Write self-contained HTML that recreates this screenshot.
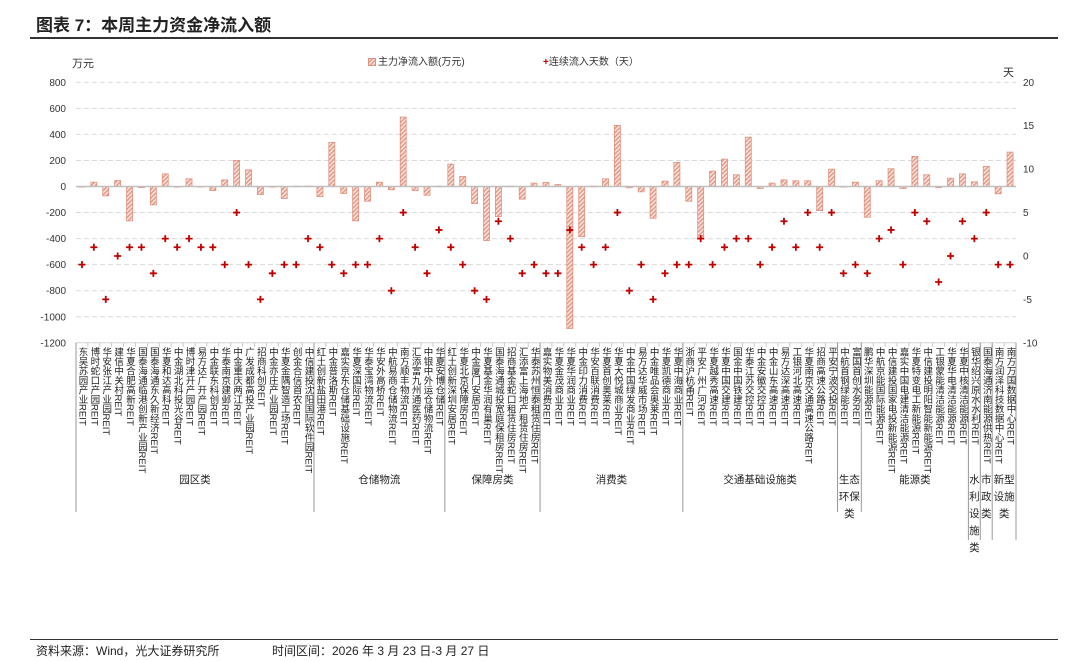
<!DOCTYPE html>
<html><head><meta charset="utf-8">
<style>
body{margin:0;background:#fff;}
#wrap{position:relative;width:1080px;height:661px;overflow:hidden;font-family:"Liberation Sans","Noto Sans CJK SC",sans-serif;color:#333;}
.abs{position:absolute;white-space:nowrap;}
.vl{position:absolute;writing-mode:vertical-rl;font-size:9.5px;line-height:11px;width:11px;color:#222;white-space:nowrap;}
.grp{position:absolute;font-size:10.5px;color:#222;text-align:center;line-height:17px;}
</style></head><body>
<div id="wrap">
<div class="abs" style="left:36px;top:11px;font-size:17px;font-weight:bold;color:#222;">图表 7：本周主力资金净流入额</div>
<div class="abs" style="left:30px;top:37px;width:1028px;height:1.5px;background:#333;"></div>
<div class="abs" style="left:72px;top:55px;font-size:11px;">万元</div>
<div class="abs" style="left:1003px;top:64px;font-size:11px;">天</div>
<div class="abs" style="left:368px;top:53px;font-size:10px;"><svg width="8" height="8" style="vertical-align:-1px;margin-right:2px"><rect x="0.5" y="0.5" width="7" height="7" fill="url(#hatch)" stroke="#e0917e"/></svg>主力净流入额(万元)</div>
<div class="abs" style="left:543px;top:53px;font-size:10px;"><span style="color:#c00000;font-weight:bold">+</span>连续流入天数（天）</div>
<svg id="chart" width="1080" height="661" style="position:absolute;left:0;top:0">
<defs><pattern id="hatch" patternUnits="userSpaceOnUse" width="3" height="3" patternTransform="rotate(45)"><rect width="3" height="3" fill="#fbe3dc"/><rect width="1.3" height="3" fill="#e0917e"/></pattern></defs>
</svg>
<div class="abs" style="left:30px;top:639px;width:1028px;height:1px;background:#333;"></div>
<div class="abs" style="left:36px;top:642px;font-size:12px;color:#222;">资料来源：Wind，光大证券研究所</div>
<div class="abs" style="left:272px;top:642px;font-size:12px;color:#222;">时间区间：2026 年 3 月 23 日-3 月 27 日</div>
</div>
<script>
const categories=["东吴苏园产业REIT","博时蛇口产园REIT","华安张江产业园REIT","建信中关村REIT","华夏合肥高新REIT","国泰海通临港创新产业园REIT","国泰海通东久新经济REIT","华夏和达高科REIT","中金湖北科投光谷REIT","博时津开产园REIT","易方达广开产园REIT","中金联东科创REIT","华泰南京建邺REIT","中金重庆两江REIT","广发成都高投产业园REIT","招商科创REIT","中金亦庄产业园REIT","华夏金隅智造工场REIT","创金合信首农REIT","中信建投沈阳国际软件园REIT",
"红土创新盐田港REIT","中金普洛斯REIT","嘉实京东仓储基础设施REIT","华夏深国际REIT","华泰宝湾物流REIT","华安外高桥REIT","中航易商仓储物流REIT","南方顺丰物流REIT","汇添富九州通医药REIT","中银中外运仓储物流REIT","华夏安博仓储REIT",
"红土创新深圳安居REIT","华夏北京保障房REIT","中金厦门安居REIT","华夏基金华润有巢REIT","国泰海通城投宽庭保租房REIT","招商基金蛇口租赁住房REIT","汇添富上海地产租赁住房REIT","华泰苏州恒泰租赁住房REIT",
"嘉实物美消费REIT","华夏金茂商业REIT","华夏华润商业REIT","中金印力消费REIT","华安百联消费REIT","华夏首创奥莱REIT","华夏大悦城商业REIT","中金中国绿发商业REIT","易方达华威市场REIT","中金唯品会奥莱REIT","华夏凯德商业REIT","华夏中海商业REIT",
"浙商沪杭甬REIT","平安广州广河REIT","华夏越秀高速REIT","华夏中国交建REIT","国金中国铁建REIT","华泰江苏交控REIT","中金安徽交控REIT","中金山东高速REIT","易方达深高速REIT","工银河北高速REIT","华夏南京交通高速公路REIT","招商高速公路REIT","平安宁波交投REIT",
"中航首钢绿能REIT","富国首创水务REIT",
"鹏华深圳能源REIT","中航京能国际能源REIT","中信建投国家电投新能源REIT","嘉实中国电建清洁能源REIT","华夏特变电工新能源REIT","中信建投明阳智能新能源REIT","工银蒙能清洁能源REIT","华夏华电清洁能源REIT","华夏中核清洁能源REIT",
"银华绍兴原水水利REIT","国泰海通济南能源供热REIT","南方润泽科技数据中心REIT","南方万国数据中心REIT"];
const netFlow=[0,33,-72,46,-264,-8,-141,97,-5,59,0,-31,51,200,128,-62,-5,-92,3,3,
-77,338,-54,-264,-113,33,-25,533,-31,-67,3,
172,77,-131,-415,-231,3,-97,26,
31,15,-1090,-385,3,59,469,-10,-41,-244,41,185,
-113,-400,118,210,90,379,-15,26,51,44,44,-185,133,
-3,33,
-236,44,136,-15,231,90,-8,64,97,
36,154,-56,264];
const days=[-1,1,-5,0,1,1,-2,2,1,2,1,1,-1,5,-1,-5,-2,-1,-1,2,
1,-1,-2,-1,-1,2,-4,5,1,-2,3,
1,-1,-4,-5,4,2,-2,-1,
-2,-2,3,1,-1,1,5,-4,-1,-5,-2,-1,
-1,2,-1,1,2,2,-1,1,4,1,5,1,5,
-2,-1,
-2,2,3,-1,5,4,-3,0,4,
2,5,-1,-1];
const groupNames=[["园区类"],["仓储物流"],["保障房类"],["消费类"],["交通基础设施类"],["生态","环保","类"],["能源类"],["水","利","设","施","类"],["市","政","类"],["新型","设施","类"]];
const groupSizes=[20,11,8,12,13,2,9,1,1,2];
const leftTicks=[800,600,400,200,0,-200,-400,-600,-800,-1000,-1200];
const rightTicks=[20,15,10,5,0,-5,-10];

const X0=76,X1=1016,n=categories.length,step=(X1-X0)/n;
const yTop=82.3,yBot=342.8;
function yL(v){return yTop+(800-v)*(yBot-yTop)/2000;}
function yR(d){return yTop+(20-d)*(yBot-yTop)/30;}
function xC(i){return X0+step*(i+0.5);}
const svg=document.getElementById('chart'),wrap=document.getElementById('wrap');
const NS="http://www.w3.org/2000/svg";
function mk(t,a){const e=document.createElementNS(NS,t);for(const k in a)e.setAttribute(k,a[k]);svg.appendChild(e);return e;}
leftTicks.forEach(v=>{
  if(v!==0){const g=mk('line',{x1:X0,x2:X1,y1:yL(v),y2:yL(v),stroke:'#d9d9d9','stroke-dasharray':'5,3','stroke-width':1});
  
  }
  const t=mk('text',{x:66,y:yL(v)+3.5,'text-anchor':'end','font-size':10,fill:'#333'});t.textContent=v;
  
  
});
rightTicks.forEach(d=>{
  const t=mk('text',{x:1023,y:yR(d)+3.5,'font-size':10,fill:'#333'});t.textContent=d;
  
  
});
netFlow.forEach((v,i)=>{
  const y0=yL(0),y1=yL(v);
  const r=mk('rect',{x:xC(i)-3,y:Math.min(y0,y1),width:6,height:Math.max(Math.abs(y1-y0),0.6),fill:'url(#hatch)',stroke:'#e0917e','stroke-width':0.8});
  
  
});
mk('line',{x1:X0,x2:X1,y1:yL(0),y2:yL(0),stroke:'#bfbfbf','stroke-width':1.5});
mk('line',{x1:X0,x2:X1,y1:yBot,y2:yBot,stroke:'#d9d9d9','stroke-width':1});
for(let i=0;i<=n;i++){mk('line',{x1:X0+step*i,x2:X0+step*i,y1:yBot,y2:yBot+4,stroke:'#bbb','stroke-width':0.8});}
days.forEach((d,i)=>{
  const p=mk('path',{d:`M${xC(i)-3.5},${yR(d)}h7M${xC(i)},${yR(d)-3.5}v7`,stroke:'#c00000','stroke-width':1.8});
  
  
});
categories.forEach((c,i)=>{
  const el=document.createElement('div');el.className='vl';
  el.style.left=(xC(i)-5.5)+'px';el.style.top='347px';el.textContent=c;
  
  
  wrap.appendChild(el);
});
let s=0;
groupSizes.forEach((g,k)=>{
  const xa=X0+step*s,xb=X0+step*(s+g);
  const bottom=(k>=7)?540:512;
  mk('line',{x1:xa,x2:xa,y1:yBot,y2:bottom,stroke:'#999','stroke-width':1});
  if(k===groupSizes.length-1)mk('line',{x1:xb,x2:xb,y1:yBot,y2:bottom,stroke:'#999','stroke-width':1});
  const el=document.createElement('div');el.className='grp';
  el.style.left=xa+'px';el.style.width=(xb-xa)+'px';el.style.top='472px';
  el.innerHTML=groupNames[k].join('<br>');
  
  
  wrap.appendChild(el);
  s+=g;
});
</script>
</body></html>
